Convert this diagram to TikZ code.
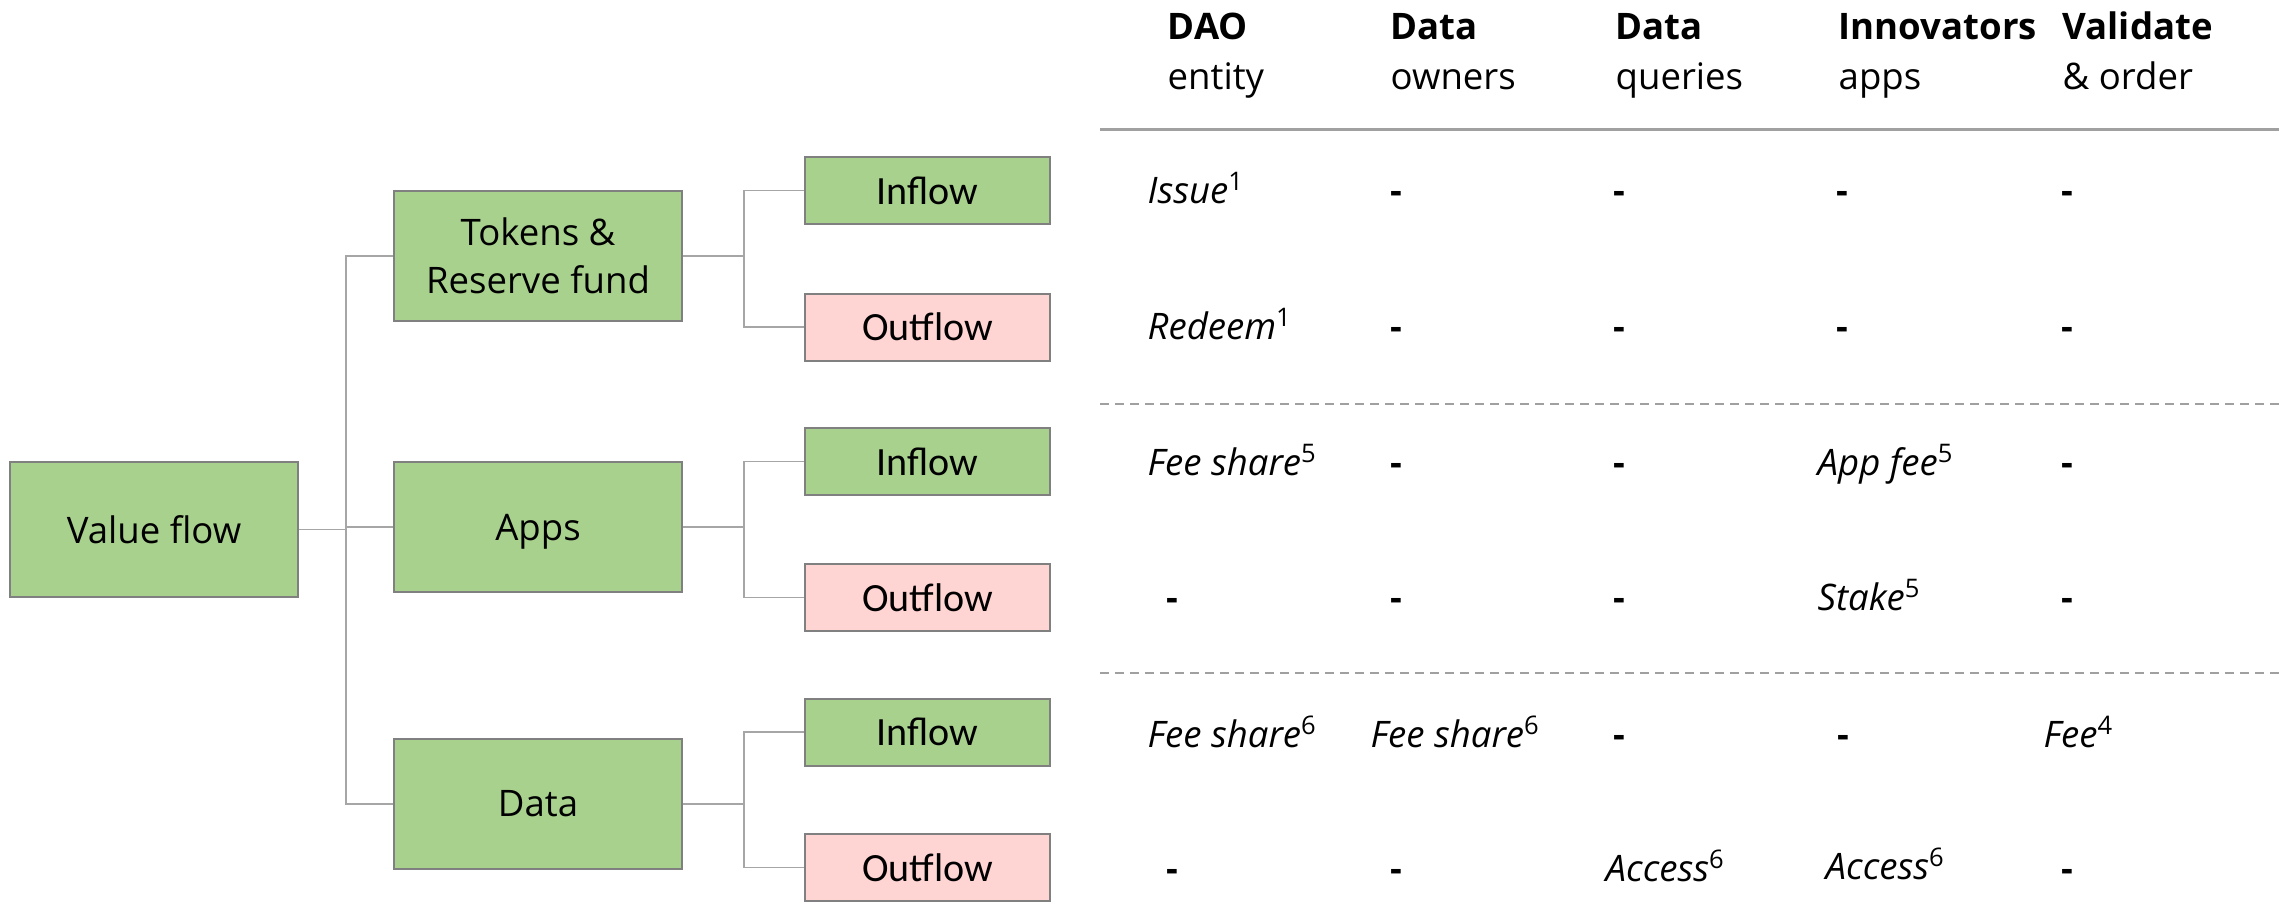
\documentclass[tikz,border=0pt]{standalone}
\usepackage{fontspec}
\setmainfont{Open Sans}
\newfontfamily\calfont{Carlito}
\definecolor{boxgreen}{HTML}{A9D18E}
\definecolor{boxpink}{HTML}{FFD5D3}
\definecolor{boxline}{HTML}{808080}
\definecolor{connline}{HTML}{A6A6A6}
\definecolor{ruleline}{HTML}{A0A0A0}
\tikzset{
  basebox/.style={draw=boxline, line width=0.2mm, inner sep=0pt, align=center,
    font=\fontsize{10.4}{13.7}\selectfont},
  mainbox/.style={basebox, fill=boxgreen, minimum width=28.8mm, minimum height=13.5mm},
  catbox/.style={basebox, fill=boxgreen, minimum width=28.8mm, minimum height=13mm},
  inbox/.style={basebox, fill=boxgreen, minimum width=24.5mm, minimum height=6.7mm,
    font=\calfont\fontsize{11.4}{13}\selectfont},
  outbox/.style={inbox, fill=boxpink},
  conn/.style={draw=connline, line width=0.15mm},
  cell/.style={anchor=base west, inner sep=0pt, font=\fontsize{10.4}{13}\selectfont},
  dcell/.style={cell, font=\fontsize{10.4}{13}\selectfont\bfseries},
  hdr/.style={cell, font=\fontsize{10.4}{13}\selectfont\bfseries},
  icell/.style={cell, font=\fontsize{10.4}{13}\selectfont\itshape},
  sepline/.style={draw=ruleline, line width=0.2mm, dash pattern=on 0.9mm off 0.6mm},
  headrule/.style={draw=ruleline, line width=0.3mm}
}
\begin{document}
\begin{tikzpicture}[x=0.1mm, y=-0.1mm]
\useasboundingbox (0,0) rectangle (2279,902);
% left tree
\node[mainbox] (vf) at (154,529.5) {Value flow};
\node[catbox] (tok) at (538,256) {Tokens \&\\Reserve fund};
\node[catbox, text depth=0pt] (apps) at (538,527) {Apps};
\node[catbox] (data) at (538,804) {Data};
\node[inbox] (ti) at (927.5,190.5) {Inflow};
\node[outbox] (to) at (927.5,327) {Outflow};
\node[inbox] (ai) at (927.5,461.5) {Inflow};
\node[outbox] (ao) at (927.5,597.5) {Outflow};
\node[inbox] (di) at (927.5,732) {Inflow};
\node[outbox] (do) at (927.5,867.5) {Outflow};
% connectors
\coordinate (bus) at (346,529.5);
\draw[conn] (vf.east) -- (bus);
\draw[conn] (tok.west) -| (bus);
\draw[conn] (data.west) -| (bus);
\draw[conn] (apps.west) -- (bus |- apps.west);
\draw[conn] (tok.east) -- ++(61,0) coordinate (b1) |- (ti.west);
\draw[conn] (b1) |- (to.west);
\draw[conn] (apps.east) -- ++(61,0) coordinate (b2) |- (ai.west);
\draw[conn] (b2) |- (ao.west);
\draw[conn] (data.east) -- ++(61,0) coordinate (b3) |- (di.west);
\draw[conn] (b3) |- (do.west);
% table rules
\coordinate (hl) at (1100,129); \coordinate (hr) at (2279,129);
\draw[headrule] (hl) -- (hr);
\coordinate (d1l) at (1100,404); \coordinate (d1r) at (2279,404);
\draw[sepline] (d1l) -- (d1r);
\coordinate (d2l) at (1100,673); \coordinate (d2r) at (2279,673);
\draw[sepline] (d2l) -- (d2r);
% headers
\node[hdr] (h1a) at (1167,39) {DAO};
\node[cell] (h1b) at (1167,89) {entity};
\node[hdr] (h2a) at (1390,39) {Data};
\node[cell] (h2b) at (1390,89) {owners};
\node[hdr] (h3a) at (1615,39) {Data};
\node[cell] (h3b) at (1615,89) {queries};
\node[hdr] (h4a) at (1838,39) {Innovators};
\node[cell] (h4b) at (1838,89) {apps};
\node[hdr] (h5a) at (2062,39) {Validate};
\node[cell] (h5b) at (2062,89) {\& order};
% row 1
\node[icell] (r1c1) at (1147,203) {Issue\textsuperscript{\upshape 1}};
\node[dcell] (r1c2) at (1390,203) {-};
\node[dcell] (r1c3) at (1613,203) {-};
\node[dcell] (r1c4) at (1836,203) {-};
\node[dcell] (r1c5) at (2061,203) {-};
% row 2
\node[icell] (r2c1) at (1147,339) {Redeem\textsuperscript{\upshape 1}};
\node[dcell] (r2c2) at (1390,339) {-};
\node[dcell] (r2c3) at (1613,339) {-};
\node[dcell] (r2c4) at (1836,339) {-};
\node[dcell] (r2c5) at (2061,339) {-};
% row 3
\node[icell] (r3c1) at (1147,475) {Fee share\textsuperscript{\upshape 5}};
\node[dcell] (r3c2) at (1390,475) {-};
\node[dcell] (r3c3) at (1613,475) {-};
\node[icell] (r3c4) at (1817,475) {App fee\textsuperscript{\upshape 5}};
\node[dcell] (r3c5) at (2061,475) {-};
% row 4
\node[dcell] (r4c1) at (1166,610) {-};
\node[dcell] (r4c2) at (1390,610) {-};
\node[dcell] (r4c3) at (1613,610) {-};
\node[icell] (r4c4) at (1817,610) {Stake\textsuperscript{\upshape 5}};
\node[dcell] (r4c5) at (2061,610) {-};
% row 5
\node[icell] (r5c1) at (1147,747) {Fee share\textsuperscript{\upshape 6}};
\node[icell] (r5c2) at (1370,747) {Fee share\textsuperscript{\upshape 6}};
\node[dcell] (r5c3) at (1613,747) {-};
\node[dcell] (r5c4) at (1837,747) {-};
\node[icell] (r5c5) at (2043,747) {Fee\textsuperscript{\upshape 4}};
% row 6
\node[dcell] (r6c1) at (1166,881) {-};
\node[dcell] (r6c2) at (1390,881) {-};
\node[icell] (r6c3) at (1605,881) {Access\textsuperscript{\upshape 6}};
\node[icell] (r6c4) at (1825,879) {Access\textsuperscript{\upshape 6}};
\node[dcell] (r6c5) at (2061,881) {-};
\end{tikzpicture}
\end{document}
